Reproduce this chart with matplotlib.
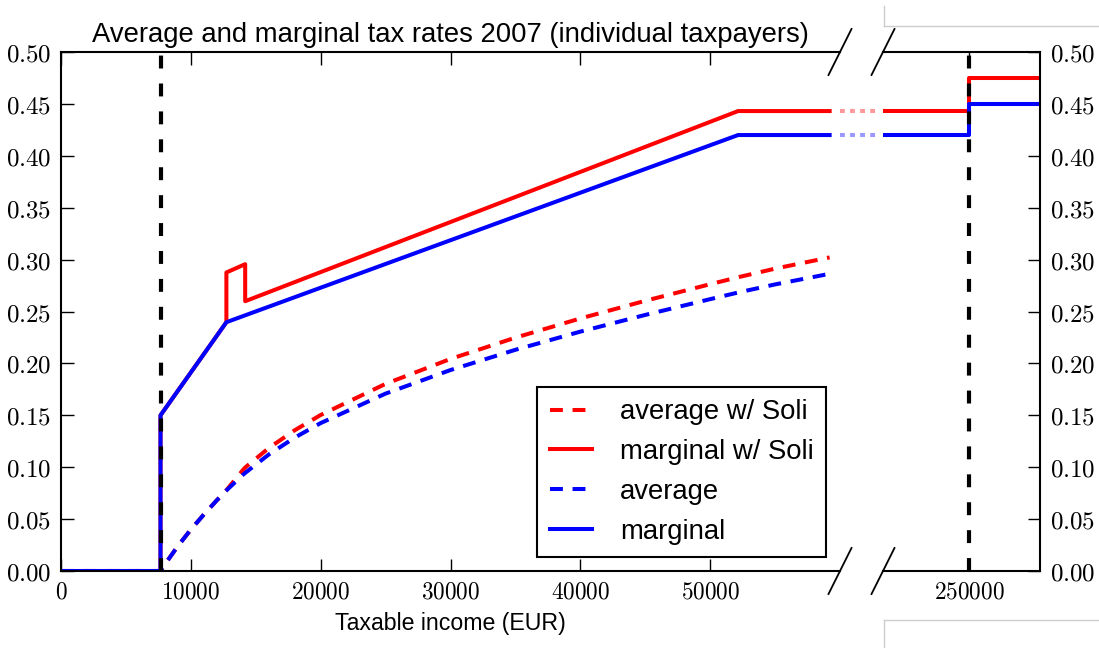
import matplotlib
matplotlib.use("Agg")
import matplotlib.pyplot as plt
from matplotlib.ticker import FuncFormatter
from matplotlib.lines import Line2D

plt.rcParams['mathtext.fontset'] = 'cm'
plt.rcParams['font.family'] = ['Liberation Sans', 'DejaVu Sans']

# income (EUR) and rates
marg_x = [0, 7664, 7664, 12739, 52151, 59200]
marg_y = [0, 0, 0.15, 0.2397, 0.42, 0.42]

marg_soli_x = [0, 7664, 7664, 12739, 12739, 14186, 14186, 52151, 59200]
marg_soli_y = [0, 0, 0.15, 0.2397, 0.2876, 0.2956, 0.2599, 0.4431, 0.4431]

avg_x = [0, 7664, 8000, 9000, 10000, 11000, 12000, 12739, 14000, 14186, 16000,
         18000, 20000, 25000, 30000, 35000, 40000, 45000, 50000, 52151, 55000, 59200]
avg_y = [0, 0, 0.0064, 0.0240, 0.0399, 0.0544, 0.0681, 0.0776, 0.0925, 0.0945, 0.1122,
         0.1285, 0.1425, 0.1709, 0.1936, 0.2131, 0.2306, 0.2467, 0.2619, 0.2683, 0.2761, 0.2863]
avg_soli_y = [0, 0, 0.0064, 0.0240, 0.0399, 0.0544, 0.0681, 0.0779, 0.0971, 0.0997, 0.1184,
              0.1356, 0.1503, 0.1803, 0.2043, 0.2248, 0.2433, 0.2603, 0.2763, 0.2830, 0.2913, 0.3021]

top_x = [243400, 250000, 250000, 255400]
top_marg_y = [0.42, 0.42, 0.45, 0.45]
top_marg_soli_y = [0.4431, 0.4431, 0.4748, 0.4748]

thresholds = [7664, 250000]
left_xticks = [0, 10000, 20000, 30000, 40000, 50000]
right_xticks = [250000]
yticks = [0.0, 0.05, 0.10, 0.15, 0.20, 0.25, 0.30, 0.35, 0.40, 0.45, 0.50]

W, H = 1099, 648
fig = plt.figure(figsize=(W / 100, H / 100), dpi=100)
ax1 = fig.add_axes([61 / W, 1 - 571 / H, (840 - 61) / W, (571 - 52) / H])
ax2 = fig.add_axes([883 / W, 1 - 571 / H, (1040 - 883) / W, (571 - 52) / H])

LW = 2.9
dash = (0, (3.2, 2.4))

ax1.plot(avg_x, avg_soli_y, color='red', lw=LW, linestyle=dash, label='average w/ Soli')
ax1.plot(marg_soli_x, marg_soli_y, color='red', lw=LW, label='marginal w/ Soli')
ax1.plot(avg_x, avg_y, color='blue', lw=LW, linestyle=dash, label='average')
ax1.plot(marg_x, marg_y, color='blue', lw=LW, label='marginal')

ax2.plot(top_x, top_marg_soli_y, color='red', lw=LW)
ax2.plot(top_x, top_marg_y, color='blue', lw=LW)

# faint dotted bridge across the gap
for yv, c in [(marg_soli_y[-1], 'red'), (marg_y[-1], 'blue')]:
    ax1.plot([1.0, 1.05], [yv, yv], transform=ax1.get_yaxis_transform(),
             color=c, alpha=0.4, lw=LW, linestyle=(0, (1.2, 1.3)), clip_on=False)

ax1.axvline(thresholds[0], color='black', lw=3, linestyle=(0, (3.1, 3.6)), zorder=5)
ax2.axvline(thresholds[1], color='black', lw=3, linestyle=(0, (3.1, 3.6)), zorder=5)

ax1.set_xlim(0, 60000)
ax2.set_xlim(top_x[0], top_x[-1])
for ax in (ax1, ax2):
    ax.set_ylim(0, 0.5)
    ax.set_yticks(yticks)
    ax.yaxis.set_major_formatter(FuncFormatter(lambda v, p: r'$%.2f$' % v))
    ax.xaxis.set_major_formatter(FuncFormatter(lambda v, p: r'$%d$' % v))
    ax.tick_params(direction='in', length=9, width=1, top=True, pad=7)
    ax.tick_params(axis='x', labelsize=16.8)
    ax.tick_params(axis='y', labelsize=18)
    for s in ax.spines.values():
        s.set_linewidth(1.5)

ax1.set_xticks(left_xticks)
ax2.set_xticks(right_xticks)
ax1.spines['right'].set_visible(False)
ax2.spines['left'].set_visible(False)
ax1.tick_params(axis='y', left=True, right=False)
ax2.tick_params(axis='y', left=False, right=True, labelleft=False, labelright=True)

# break marks
d1x, d2x, dy = 11.5 / 779, 11.5 / 157, 23 / 519
kw = dict(color='black', lw=1.3, clip_on=False)
for yy in (0, 1):
    ax1.plot([1 - d1x, 1 + d1x], [yy - dy, yy + dy], transform=ax1.transAxes, **kw)
    ax2.plot([-d2x, d2x], [yy - dy, yy + dy], transform=ax2.transAxes, **kw)

ax1.set_title('Average and marginal tax rates 2007 (individual taxpayers)', fontsize=19.8, pad=7)
ax1.set_xlabel('Taxable income (EUR)', fontsize=16.7, labelpad=6)

leg = ax1.legend(loc='lower right', bbox_to_anchor=(0.982, 0.027), borderaxespad=0,
                 fontsize=19.8, fancybox=False, framealpha=1, edgecolor='black',
                 handlelength=1.55, handletextpad=1.0, labelspacing=0.5, borderpad=0.45)
leg.get_frame().set_linewidth(1.5)

# stray frame edges at right of the screenshot
g = '#cccccc'
fig.add_artist(Line2D([884 / W, 1], [1 - 26 / H] * 2, color=g, lw=1))
fig.add_artist(Line2D([884 / W] * 2, [1 - 6 / H, 1 - 26 / H], color=g, lw=1))
fig.add_artist(Line2D([884 / W, 1], [1 - 620 / H] * 2, color=g, lw=1))
fig.add_artist(Line2D([884 / W] * 2, [1 - 620 / H, 0], color=g, lw=1))

fig.savefig('out.png', dpi=100)
